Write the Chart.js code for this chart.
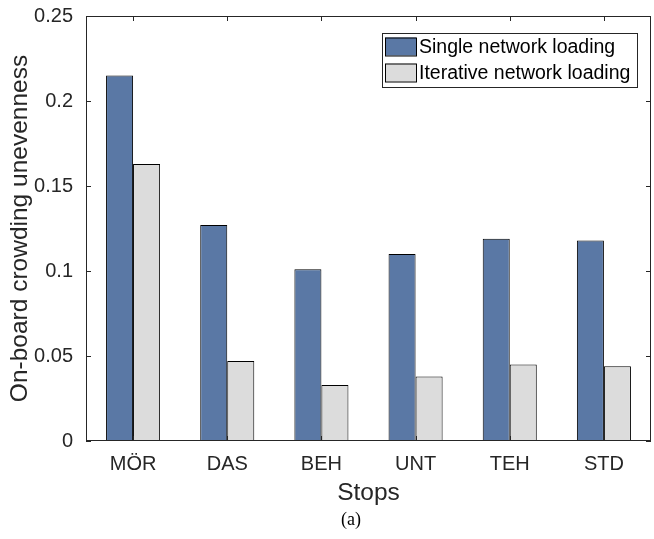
<!DOCTYPE html>
<html>
<head>
<meta charset="utf-8">
<script src="https://cdn.jsdelivr.net/npm/chart.js@4.4.1/dist/chart.umd.min.js"></script>
<style>
  html, body { margin: 0; padding: 0; background: #fff; }
  #wrap { width: 654px; height: 539px; }
</style>
</head>
<body>
<div id="wrap"><canvas id="grafico" width="654" height="539"></canvas></div>
<script>
// datos
const stops = ['MÖR', 'DAS', 'BEH', 'UNT', 'TEH', 'STD'];
const singleLoading = [0.215, 0.127, 0.101, 0.110, 0.119, 0.118];
const iterativeLoading = [0.163, 0.047, 0.033, 0.038, 0.045, 0.044];
const yTickLabels = ['0', '0.05', '0.1', '0.15', '0.2', '0.25'];
const caption = '(a)';

const ink = '#262626';
const sans = "'Liberation Sans', Arial, sans-serif";

// caja tipo MATLAB con ticks hacia adentro + leyenda con marco
const boxPlugin = {
    id: 'matlabBox',
    afterDraw(chart) {
        const ctx = chart.ctx;
        const a = chart.chartArea;
        const xs = chart.scales.x, ys = chart.scales.y;
        ctx.save();
        ctx.strokeStyle = ink;
        ctx.lineWidth = 1;
        ctx.strokeRect(Math.round(a.left) + 0.5, Math.round(a.top) + 0.5,
            Math.round(a.right - a.left) - 1, Math.round(a.bottom - a.top) - 1);
        const tl = 5;
        ctx.beginPath();
        ys.ticks.forEach((t, i) => {
            const y = Math.round(ys.getPixelForTick(i)) + 0.5;
            ctx.moveTo(a.left, y); ctx.lineTo(a.left + tl, y);
            ctx.moveTo(a.right, y); ctx.lineTo(a.right - tl, y);
        });
        xs.ticks.forEach((t, i) => {
            const x = Math.round(xs.getPixelForTick(i)) + 0.5;
            ctx.moveTo(x, a.bottom); ctx.lineTo(x, a.bottom - tl);
            ctx.moveTo(x, a.top); ctx.lineTo(x, a.top + tl);
        });
        ctx.stroke();

        // leyenda
        const lx = 382, ly = 33, lw = 255, lh = 54;
        ctx.fillStyle = '#fff';
        ctx.fillRect(lx, ly, lw, lh);
        ctx.strokeStyle = ink;
        ctx.strokeRect(lx + 0.5, ly + 0.5, lw, lh);
        ctx.font = '19.5px ' + sans;
        ctx.textBaseline = 'middle';
        ctx.textAlign = 'left';
        chart.data.datasets.forEach((ds, i) => {
            const cy = ly + 13.5 + i * 26;
            ctx.fillStyle = ds.backgroundColor;
            ctx.fillRect(lx + 3, cy - 9, 31, 18);
            ctx.strokeStyle = '#000';
            ctx.strokeRect(lx + 3.5, cy - 8.5, 31, 18);
            ctx.fillStyle = '#000';
            ctx.fillText(ds.label, lx + 37, cy + 1);
        });

        // pie de figura
        ctx.font = "18px 'Liberation Serif', 'DejaVu Serif', serif";
        ctx.textAlign = 'center';
        ctx.fillText(caption, 351, 520);
        ctx.restore();
    }
};

const ctxBar = document.getElementById('grafico').getContext('2d');
new Chart(ctxBar, {
    type: 'bar',
    data: {
        labels: stops,
        datasets: [{
            label: 'Single network loading',
            data: singleLoading,
            backgroundColor: '#5A78A5',
            borderColor: '#000',
            borderWidth: 1
        }, {
            label: 'Iterative network loading',
            data: iterativeLoading,
            backgroundColor: '#DCDCDC',
            borderColor: '#000',
            borderWidth: 1
        }]
    },
    options: {
        responsive: false,
        animation: false,
        layout: { padding: { top: 16, right: 3, left: 0, bottom: 28.4 } },
        datasets: {
            bar: { categoryPercentage: 0.574, barPercentage: 1.0 }
        },
        scales: {
            x: {
                grid: { display: false, drawTicks: false },
                border: { display: false },
                ticks: { color: ink, padding: 11, font: { family: sans, size: 20 } },
                title: {
                    display: true, text: 'Stops', color: ink,
                    font: { family: sans, size: 24.5 }, padding: { top: 0, bottom: 3 }
                },
                afterFit(scale) {
                    scale.height = 69.6;
                    scale.paddingLeft = 0;
                    scale.paddingRight = 0;
                }
            },
            y: {
                min: 0, max: 0.25,
                grid: { display: false, drawTicks: false },
                border: { display: false },
                ticks: {
                    stepSize: 0.05, color: ink, padding: 13,
                    font: { family: sans, size: 20 },
                    callback: (v, i) => yTickLabels[i]
                },
                title: {
                    display: true, text: 'On-board crowding unevenness', color: ink,
                    font: { family: sans, size: 24.5 }, padding: { top: 6, bottom: 0 }
                },
                afterFit(scale) {
                    scale.width = 86;
                    scale.paddingTop = 0;
                    scale.paddingBottom = 0;
                }
            }
        },
        plugins: {
            legend: { display: false },
            tooltip: { enabled: false }
        }
    },
    plugins: [boxPlugin]
});
</script>
</body>
</html>
